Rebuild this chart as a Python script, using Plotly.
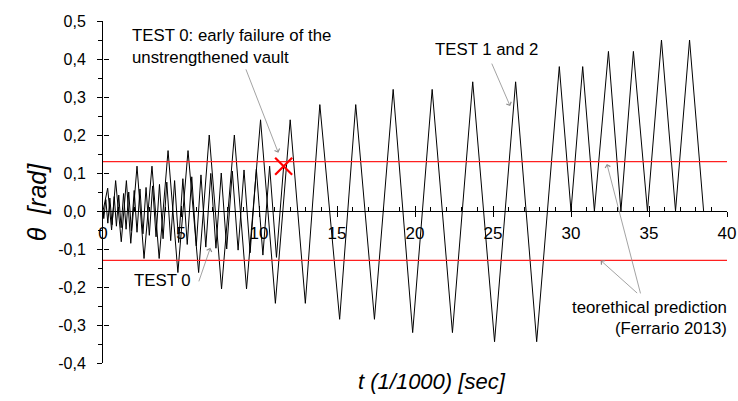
import plotly.graph_objects as go

# TEST 1 and 2: turning points of the cyclic rotation history
t_test12 = [0.0, 0.3, 0.55, 0.81, 1.17, 1.5, 1.78, 2.18, 2.63, 3.14, 3.6, 4.17, 4.8, 5.45,
            6.13, 6.81, 7.6, 8.42, 9.2, 10.1, 11.05, 12.0, 12.97, 13.9, 15.17, 16.2, 17.4,
            18.6, 19.85, 21.1, 22.4, 23.7, 25.1, 26.45, 27.8, 29.25, 30.0, 30.75, 31.5,
            32.4, 33.2, 34.0, 34.9, 35.8, 36.7, 37.6, 38.5]
theta_test12 = [0.0, 0.06, -0.05, 0.08, -0.081, 0.08, -0.085, 0.118, -0.125, 0.118, -0.125,
                0.159, -0.162, 0.159, -0.162, 0.2, -0.205, 0.2, -0.205, 0.24, -0.243, 0.24,
                -0.243, 0.28, -0.285, 0.28, -0.285, 0.32, -0.32, 0.32, -0.32, 0.34, -0.344,
                0.34, -0.344, 0.38, 0.0, 0.38, 0.0, 0.42, 0.0, 0.42, 0.0, 0.45, 0.0, 0.45, 0.0]

# TEST 0: unstrengthened vault, up to its early failure
t_test0 = [0.0, 0.05, 0.18, 0.31, 0.44, 0.58, 0.72, 0.86, 1.01, 1.16, 1.32, 1.48, 1.65, 1.82,
           2.00, 2.18, 2.37, 2.56, 2.76, 2.97, 3.18, 3.40, 3.62, 3.85, 4.09, 4.34, 4.59, 4.85,
           5.12, 5.40, 5.69, 5.98, 6.28, 6.59, 6.91, 7.24, 7.58, 7.93, 8.29, 8.66, 9.04, 9.43,
           9.83, 10.25, 10.68, 11.12, 11.58]
theta_test0 = [0.0, -0.02, 0.03, -0.032, 0.034, -0.036, 0.038, -0.04, 0.042, -0.044, 0.046,
               -0.048, 0.05, -0.052, 0.054, -0.056, 0.058, -0.06, 0.062, -0.064, 0.066, -0.068,
               0.07, -0.073, 0.076, -0.078, 0.08, -0.083, 0.085, -0.088, 0.09, -0.092, 0.095,
               -0.095, 0.099, -0.098, 0.1, -0.1, 0.105, -0.103, 0.108, -0.11, 0.11, -0.116,
               0.118, -0.122, 0.118]

# failure point of TEST 0
failure_t = [11.58]
failure_theta = [0.118]

# theoretical rotation limit (Ferrario 2013)
limit_t = [0, 40]
limit_upper = [0.13, 0.13]
limit_lower = [-0.13, -0.13]

x_tickvals = [0, 5, 10, 15, 20, 25, 30, 35, 40]
x_ticktext = ["0", "5", "10", "15", "20", "25", "30", "35", "40"]
y_tickvals = [-0.4, -0.3, -0.2, -0.1, 0.0, 0.1, 0.2, 0.3, 0.4, 0.5]
y_ticktext = ["-0,4", "-0,3", "-0,2", "-0,1", "0,0", "0,1", "0,2", "0,3", "0,4", "0,5"]

FONT = "Liberation Sans, Arial, sans-serif"
XR = [0, 40]
YR = [-0.4, 0.5]
ZERO_POS = 0.4 / 0.9  # paper position of theta = 0

fig = go.Figure()
fig.add_trace(go.Scatter(x=t_test12, y=theta_test12, mode="lines",
                         line=dict(color="black", width=1), hoverinfo="skip"))
fig.add_trace(go.Scatter(x=t_test0, y=theta_test0, mode="lines",
                         line=dict(color="black", width=1), hoverinfo="skip"))
fig.add_trace(go.Scatter(x=limit_t, y=limit_upper, mode="lines",
                         line=dict(color="#ff2020", width=1.4), hoverinfo="skip"))
fig.add_trace(go.Scatter(x=limit_t, y=limit_lower, mode="lines",
                         line=dict(color="#ff2020", width=1.4), hoverinfo="skip"))
fig.add_trace(go.Scatter(x=failure_t, y=failure_theta, mode="markers",
                         marker=dict(symbol="x-thin", size=17,
                                     line=dict(color="#ff0000", width=2.2)),
                         hoverinfo="skip"))
# empty trace that carries the secondary tick axes
fig.add_trace(go.Scatter(x=[None], y=[None], xaxis="x2", yaxis="y2", showlegend=False))

fig.update_layout(
    width=738, height=401,
    margin=dict(l=103, r=11, t=21, b=38),
    paper_bgcolor="white", plot_bgcolor="white",
    showlegend=False,
    font=dict(family=FONT, color="black", size=16),
    xaxis=dict(range=XR, anchor="free", position=ZERO_POS, showgrid=False, zeroline=False,
               automargin=False,
               showline=True, linecolor="black", linewidth=1,
               tickvals=x_tickvals, ticktext=x_ticktext, showticklabels=False,
               ticks="inside", ticklen=5, tickcolor="black",
               minor=dict(dtick=1, ticks="inside", ticklen=4, tickcolor="black")),
    xaxis2=dict(range=XR, overlaying="x", anchor="free", position=ZERO_POS,
                automargin=False,
                showgrid=False, zeroline=False, showline=False,
                tickvals=x_tickvals, ticktext=x_ticktext,
                ticks="outside", ticklen=5, tickcolor="black",
                tickfont=dict(size=17), ticklabelstandoff=2),
    yaxis=dict(range=YR, showgrid=False, zeroline=False, showline=True, automargin=False,
               linecolor="black", linewidth=1,
               tickvals=y_tickvals, ticktext=y_ticktext,
               ticks="outside", ticklen=5, tickcolor="black", tickfont=dict(size=16),
               ticklabelstandoff=8,
               minor=dict(dtick=0.05, ticks="outside", ticklen=4, tickcolor="black")),
    yaxis2=dict(range=YR, overlaying="y", anchor="free", position=0, automargin=False,
                showgrid=False, zeroline=False, showline=False,
                tickvals=y_tickvals, showticklabels=False,
                ticks="inside", ticklen=5, tickcolor="black"),
)

# axis titles
fig.add_annotation(text="<i>t (1/1000) [sec]</i>", xref="paper", yref="paper",
                   x=0.527, y=-0.053, xanchor="center", yanchor="middle",
                   showarrow=False, font=dict(size=22))
fig.add_annotation(text="<i>θ  [rad]</i>", xref="paper", yref="paper",
                   x=-0.08, y=0.47, xanchor="right", yanchor="middle", textangle=-90,
                   showarrow=False, font=dict(size=25))

TXT = dict(showarrow=False, font=dict(size=16.8))
fig.add_annotation(text="TEST 0: early failure of the", xref="x", yref="y", x=1.75, y=0.462,
                   xanchor="left", yanchor="middle", **TXT)
fig.add_annotation(text="unstrengthened vault", xref="x", yref="y", x=1.75, y=0.405,
                   xanchor="left", yanchor="middle", **TXT)
fig.add_annotation(text="TEST 1 and 2", xref="x", yref="y", x=21.17, y=0.426,
                   xanchor="left", yanchor="middle", **TXT)
fig.add_annotation(text="TEST 0", xref="x", yref="y", x=1.88, y=-0.184,
                   xanchor="left", yanchor="middle", **TXT)
fig.add_annotation(text="teorethical prediction", xref="paper", yref="y", x=1.004, y=-0.255,
                   xanchor="right", yanchor="middle", **TXT)
fig.add_annotation(text="(Ferrario 2013)", xref="paper", yref="y", x=1.004, y=-0.31,
                   xanchor="right", yanchor="middle", **TXT)

# pointer arrows
ARROW = dict(text="", showarrow=True, arrowhead=4, arrowsize=1.3, arrowwidth=0.8,
             arrowcolor="#8c8c8c", xref="x", yref="y", axref="pixel", ayref="pixel")
fig.add_annotation(x=11.24, y=0.153, ax=-33, ay=-85, **ARROW)
fig.add_annotation(x=26.1, y=0.276, ax=-19, ay=-44, **ARROW)
fig.add_annotation(x=6.88, y=-0.097, ax=-12, ay=35, **ARROW)
fig.add_annotation(x=31.9, y=-0.13, ax=38, ay=34, **ARROW)
fig.add_annotation(x=32.3, y=0.124, ax=34, ay=131, **ARROW)

fig.write_html("out.html")
